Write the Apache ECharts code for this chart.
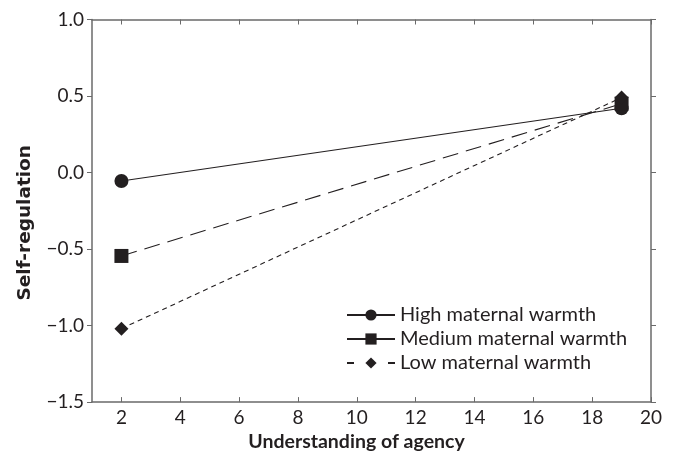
<!DOCTYPE html>
<html><head><meta charset="utf-8">
<script src="https://cdn.jsdelivr.net/npm/echarts@6/dist/echarts.min.js"></script>
<style>html,body{margin:0;padding:0;background:#fff}#c{width:674px;height:457px}</style>
</head><body><div id="c"></div>
<script>
const xTicks = [2, 4, 6, 8, 10, 12, 14, 16, 18, 20];
const seriesNames = ['High maternal warmth', 'Medium maternal warmth', 'Low maternal warmth'];
const xValues = [2, 19];
const highValues = [-0.055, 0.42];
const mediumValues = [-0.545, 0.45];
const lowValues = [-1.02, 0.49];

const ink = '#231f20';
const axisCol = '#6a6a6a';
const font = 'Lato, "Open Sans", sans-serif';
const fmtY = v => (v < 0 ? '\u2212' : '') + Math.abs(v).toFixed(1);

const chart = echarts.init(document.getElementById('c'));
function mk(name, vals, symbol, size, dash) {
  return {
    name: name, type: 'line', xAxisIndex: 0, yAxisIndex: 0,
    data: xValues.map((x, i) => [x, vals[i]]),
    symbol: symbol, symbolSize: size,
    itemStyle: { color: ink },
    lineStyle: { color: ink, width: 1.1, type: dash },
    emphasis: { disabled: true }, animation: false
  };
}
chart.setOption({
  animation: false,
  grid: { left: 92, right: 23, top: 19.5, bottom: 54.5 },
  legend: {
    orient: 'vertical', left: 341, top: 300, itemGap: 4,
    itemWidth: 48, itemHeight: 14,
    textStyle: { fontFamily: font, fontSize: 20, lineHeight: 20, color: ink },
    data: [
      { name: seriesNames[0] },
      { name: seriesNames[1], lineStyle: { type: 'solid' } },
      { name: seriesNames[2], lineStyle: { type: [7, 34] } }
    ]
  },
  xAxis: [{
    type: 'value', min: 1, max: 20,
    name: 'Understanding of agency', nameLocation: 'middle', nameGap: 28,
    nameTextStyle: { fontFamily: font, fontSize: 19.5, fontWeight: 'bold', color: ink, padding: [0, 30, 0, 0] },
    axisLine: { onZero: false, lineStyle: { color: axisCol, width: 1.5 } },
    axisTick: { inside: true, length: 5, customValues: xTicks, lineStyle: { color: axisCol } },
    axisLabel: { customValues: xTicks, margin: 6, fontFamily: font, fontSize: 19, color: ink },
    splitLine: { show: false }
  }, {
    type: 'value', min: 1, max: 20, position: 'top',
    axisLine: { onZero: false, lineStyle: { color: axisCol, width: 1.5 } },
    axisTick: { inside: true, length: 5, customValues: xTicks, lineStyle: { color: axisCol } },
    axisLabel: { show: false }, splitLine: { show: false }
  }],
  yAxis: [{
    type: 'value', min: -1.5, max: 1.0, interval: 0.5,
    name: 'Self-regulation', nameLocation: 'middle', nameGap: 57,
    nameTextStyle: { fontFamily: '"DejaVu Sans", sans-serif', fontSize: 18.5, fontWeight: 'bold', color: ink, padding: [0, 24, 0, 0] },
    axisLine: { show: true, onZero: false, lineStyle: { color: axisCol, width: 1.5 } },
    axisTick: { show: true, length: 5, lineStyle: { color: axisCol } },
    axisLabel: { formatter: fmtY, margin: 8, fontFamily: font, fontSize: 19, color: ink },
    splitLine: { show: false }
  }, {
    type: 'value', min: -1.5, max: 1.0, interval: 0.5, position: 'right',
    axisLine: { show: true, onZero: false, lineStyle: { color: axisCol, width: 1.5 } },
    axisTick: { show: true, length: 5, lineStyle: { color: axisCol } },
    axisLabel: { show: false }, splitLine: { show: false }
  }],
  series: [
    mk(seriesNames[0], highValues, 'circle', 14, 'solid'),
    mk(seriesNames[1], mediumValues, 'rect', 14, [16, 8]),
    mk(seriesNames[2], lowValues, 'diamond', 14, [5, 4])
  ]
});
</script></body></html>
